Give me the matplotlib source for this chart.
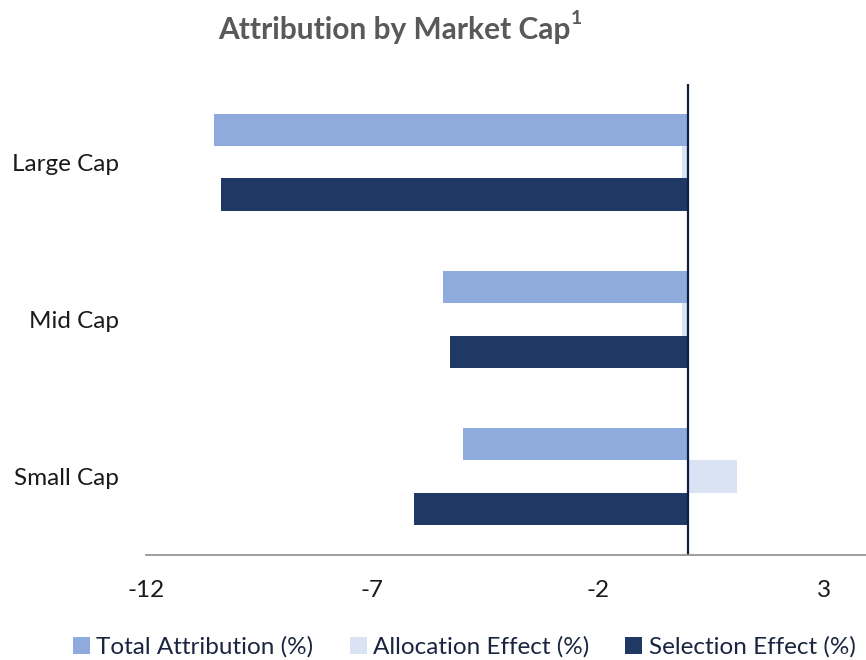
import matplotlib
matplotlib.use("Agg")
import matplotlib.pyplot as plt
import numpy as np
from matplotlib.patches import Patch

categories = ["Large Cap", "Mid Cap", "Small Cap"]
series_names = ["Total Attribution (%)", "Allocation Effect (%)", "Selection Effect (%)"]
total = [-10.5, -5.42, -4.98]
allocation = [-0.15, -0.13, 1.07]
selection = [-10.35, -5.27, -6.07]
xticks = [-12, -7, -2, 3]

colors = ["#8FAADC", "#DAE3F3", "#203864"]
font = ["Lato", "DejaVu Sans"]
plt.rcParams["font.family"] = font

fig = plt.figure(figsize=(8.66, 6.6), dpi=100)
ax = fig.add_axes([0.1686, 0.159, 1 - 0.1686, 0.873 - 0.159])

y = np.arange(len(categories))
h = 0.205
for i, (vals, c) in enumerate(zip([total, allocation, selection], colors)):
    ax.barh(y + (i - 1) * h, vals, height=h, color=c, edgecolor="none")

ax.set_ylim(len(categories) - 0.5, -0.5)
ax.set_xlim(-12, 3.93)
ax.set_xticks(xticks)
ax.set_xticklabels([str(t) for t in xticks])
ax.set_yticks(y)
ax.set_yticklabels(categories)
ax.tick_params(axis="both", length=0, labelsize=17.5, colors="#1a1a1a")
ax.tick_params(axis="x", pad=18)
ax.tick_params(axis="y", pad=19.5)
for s in ["top", "right", "left"]:
    ax.spines[s].set_visible(False)
ax.spines["bottom"].set_color("#8c8c8c")
ax.spines["bottom"].set_linewidth(1.2)
ax.axvline(0, color="#0D1F44", linewidth=1.6)

fig.text(0.455, 0.955, "Attribution by Market Cap", ha="center", va="center",
         fontsize=21.5, fontweight="bold", color="#595959")
fig.text(0.659, 0.972, "1", ha="left", va="center",
         fontsize=14, fontweight="bold", color="#595959")

handles = [Patch(facecolor=c, edgecolor="none") for c in colors]
leg = fig.legend(handles, series_names, loc="center", bbox_to_anchor=(0.536, 0.02),
                 ncol=3, frameon=False, fontsize=17.5, handlelength=0.7, handleheight=0.7,
                 handletextpad=0.25, columnspacing=1.5)
for t in leg.get_texts():
    t.set_color("#1a2540")

fig.savefig("out.png", dpi=100)
